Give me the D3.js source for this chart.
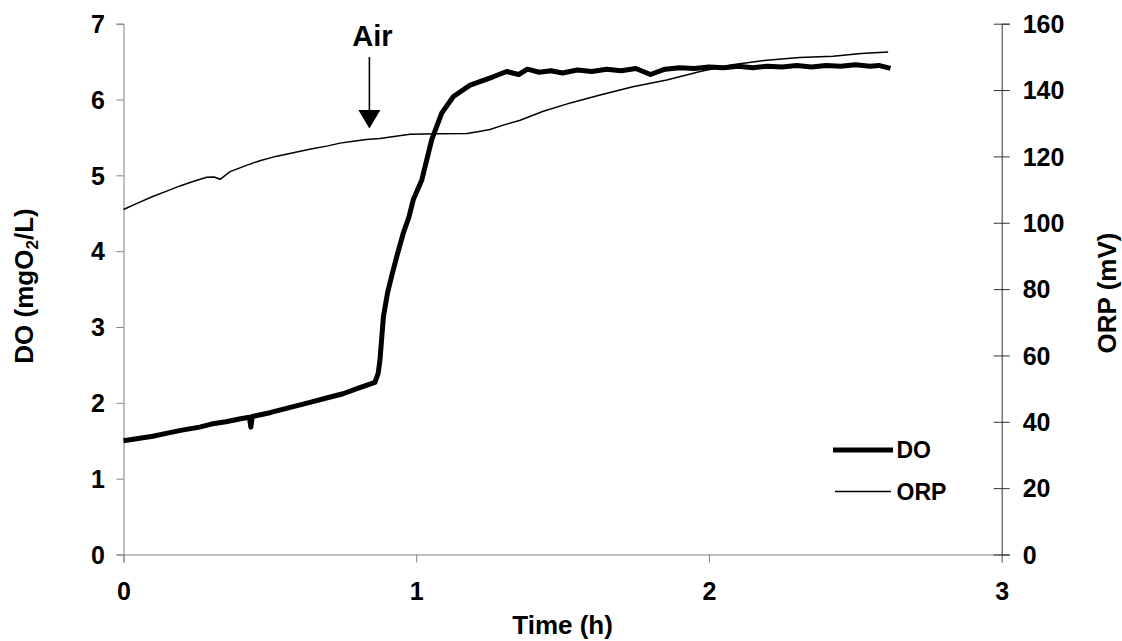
<!DOCTYPE html>
<html>
<head>
<meta charset="utf-8">
<script src="https://cdn.jsdelivr.net/npm/d3@7"></script>
<style>
  body { margin: 0; background: #fff; }
  text { font-family: "Liberation Sans", Arial, sans-serif; font-weight: bold; fill: #000; }
</style>
</head>
<body>
<div id="chart"></div>
<script>
// DO (mgO2/L) vs time (h)
var doTime = [0, 0.05, 0.10, 0.15, 0.20, 0.26, 0.30, 0.35, 0.40, 0.43, 0.435, 0.44, 0.50, 0.55, 0.60, 0.65, 0.70, 0.75, 0.80, 0.859, 0.870, 0.876, 0.888, 0.902, 0.916, 0.935, 0.956, 0.975, 0.990, 1.019, 1.053, 1.087, 1.127, 1.184, 1.263, 1.309,
  1.35, 1.38, 1.42, 1.46, 1.50, 1.55, 1.60, 1.65, 1.70, 1.75, 1.80, 1.85, 1.90, 1.95, 2.00, 2.05, 2.10, 2.15, 2.20, 2.25, 2.30, 2.35, 2.40, 2.45, 2.50, 2.55, 2.58, 2.62];
var doValue = [1.50, 1.53, 1.56, 1.60, 1.64, 1.68, 1.72, 1.75, 1.79, 1.81, 1.68, 1.82, 1.87, 1.92, 1.97, 2.02, 2.07, 2.12, 2.19, 2.27, 2.39, 2.56, 3.14, 3.45, 3.67, 3.95, 4.24, 4.45, 4.68, 4.94, 5.47, 5.82, 6.04, 6.19, 6.30, 6.37,
  6.33, 6.40, 6.36, 6.38, 6.35, 6.39, 6.37, 6.40, 6.38, 6.41, 6.33, 6.40, 6.42, 6.41, 6.43, 6.42, 6.44, 6.42, 6.44, 6.43, 6.45, 6.43, 6.45, 6.44, 6.46, 6.44, 6.45, 6.41];

// ORP (mV) vs time (h)
var orpTime = [0, 0.05, 0.10, 0.15, 0.193, 0.24, 0.284, 0.31, 0.330, 0.364, 0.42, 0.466, 0.52, 0.580, 0.64, 0.694, 0.74, 0.785, 0.83, 0.876, 0.93, 0.979, 1.08, 1.173, 1.21, 1.252, 1.30, 1.355, 1.434, 1.53, 1.628, 1.74, 1.856, 1.970, 2.08, 2.197, 2.31, 2.424, 2.52, 2.612];
var orpValue = [104.0, 106.0, 107.9, 109.6, 111.1, 112.5, 113.7, 113.8, 113.1, 115.4, 117.3, 118.7, 120.0, 121.1, 122.2, 123.1, 124.0, 124.6, 125.1, 125.4, 126.1, 126.7, 126.8, 126.9, 127.4, 128.1, 129.5, 130.9, 133.6, 136.2, 138.5, 141.0, 143.0, 145.6, 147.6, 149.0, 149.8, 150.2, 151.0, 151.5];

var xTicks = [0, 1, 2, 3];
var leftTicks = [0, 1, 2, 3, 4, 5, 6, 7];
var rightTicks = [0, 20, 40, 60, 80, 100, 120, 140, 160];
var seriesNames = ["DO", "ORP"];
var airTime = 0.84;

var width = 1122, height = 641;

var svg = d3.select("#chart").append("svg")
  .attr("width", width)
  .attr("height", height);

var x = d3.scaleLinear().domain([0, 3]).range([123.5, 1001.7]);
var yL = d3.scaleLinear().domain([0, 7]).range([554.5, 23.7]);
var yR = d3.scaleLinear().domain([0, 160]).range([554.5, 23.7]);

// axes
var gx = svg.append("g")
  .attr("transform", "translate(0," + yL(0) + ")")
  .call(d3.axisBottom(x).tickValues(xTicks).tickSizeOuter(0).tickSize(8).tickFormat(d3.format("d")));
gx.select(".domain").attr("stroke", "#808080");
gx.selectAll(".tick line").attr("stroke", "#808080");
gx.selectAll(".tick text").attr("y", 45).attr("dy", 0).style("font-size", "25px");

var gl = svg.append("g")
  .attr("transform", "translate(" + x(0) + ",0)")
  .call(d3.axisLeft(yL).tickValues(leftTicks).tickSizeOuter(0).tickSize(7).tickFormat(d3.format("d")));
gl.select(".domain").attr("stroke", "#808080");
gl.selectAll(".tick line").attr("stroke", "#808080");
gl.selectAll(".tick text").attr("x", -18.5).attr("dy", "0.35em").style("font-size", "25px");

var gr = svg.append("g")
  .attr("transform", "translate(" + x(3) + ",0)")
  .call(d3.axisRight(yR).tickValues(rightTicks).tickSizeOuter(0).tickSize(8).tickFormat(d3.format("d")));
gr.select(".domain").attr("stroke", "#333");
gr.selectAll(".tick line").attr("x1", -8).attr("stroke", "#333");
gr.selectAll(".tick text").attr("x", 21).attr("dy", "0.35em").style("font-size", "25px");

// axis titles
svg.append("text")
  .attr("x", x(1.5)).attr("y", 634)
  .attr("text-anchor", "middle")
  .style("font-size", "26px")
  .text("Time (h)");

var tl = svg.append("text")
  .attr("transform", "translate(33,286) rotate(-90)")
  .attr("text-anchor", "middle")
  .style("font-size", "26px");
tl.append("tspan").text("DO (mgO");
tl.append("tspan").attr("dy", 5).style("font-size", "17px").text("2");
tl.append("tspan").attr("dy", -5).text("/L)");

svg.append("text")
  .attr("transform", "translate(1116,293) rotate(-90)")
  .attr("text-anchor", "middle")
  .style("font-size", "26px")
  .text("ORP (mV)");

// series
var doLine = d3.line()
  .x(function(d, i) { return x(doTime[i]); })
  .y(function(d) { return yL(d); });

var orpLine = d3.line()
  .x(function(d, i) { return x(orpTime[i]); })
  .y(function(d) { return yR(d); });

svg.append("path")
  .datum(orpValue)
  .attr("d", orpLine)
  .attr("fill", "none")
  .attr("stroke", "#000")
  .attr("stroke-width", 1.5);

svg.append("path")
  .datum(doValue)
  .attr("d", doLine)
  .attr("fill", "none")
  .attr("stroke", "#000")
  .attr("stroke-width", 5)
  .attr("stroke-linejoin", "round");

// Air annotation
var ax = x(airTime);
svg.append("text")
  .attr("x", ax + 3).attr("y", 46)
  .attr("text-anchor", "middle")
  .style("font-size", "29px")
  .text("Air");
svg.append("line")
  .attr("x1", ax).attr("x2", ax)
  .attr("y1", 57).attr("y2", 112)
  .attr("stroke", "#000").attr("stroke-width", 1.6);
svg.append("path")
  .attr("d", "M" + (ax - 11) + ",110 L" + (ax + 11) + ",110 L" + ax + ",128.5 Z")
  .attr("fill", "#000");

// legend
var legend = svg.append("g");
var legendY = [450, 491.5];
var legendW = [5, 1.5];
seriesNames.forEach(function(name, i) {
  legend.append("line")
    .attr("x1", i === 0 ? 833 : 835).attr("x2", i === 0 ? 893 : 891)
    .attr("y1", legendY[i]).attr("y2", legendY[i])
    .attr("stroke", "#000").attr("stroke-width", legendW[i]);
  legend.append("text")
    .attr("x", 896.5).attr("y", legendY[i])
    .attr("dy", "0.36em")
    .style("font-size", "23px")
    .text(name);
});
</script>
</body>
</html>
